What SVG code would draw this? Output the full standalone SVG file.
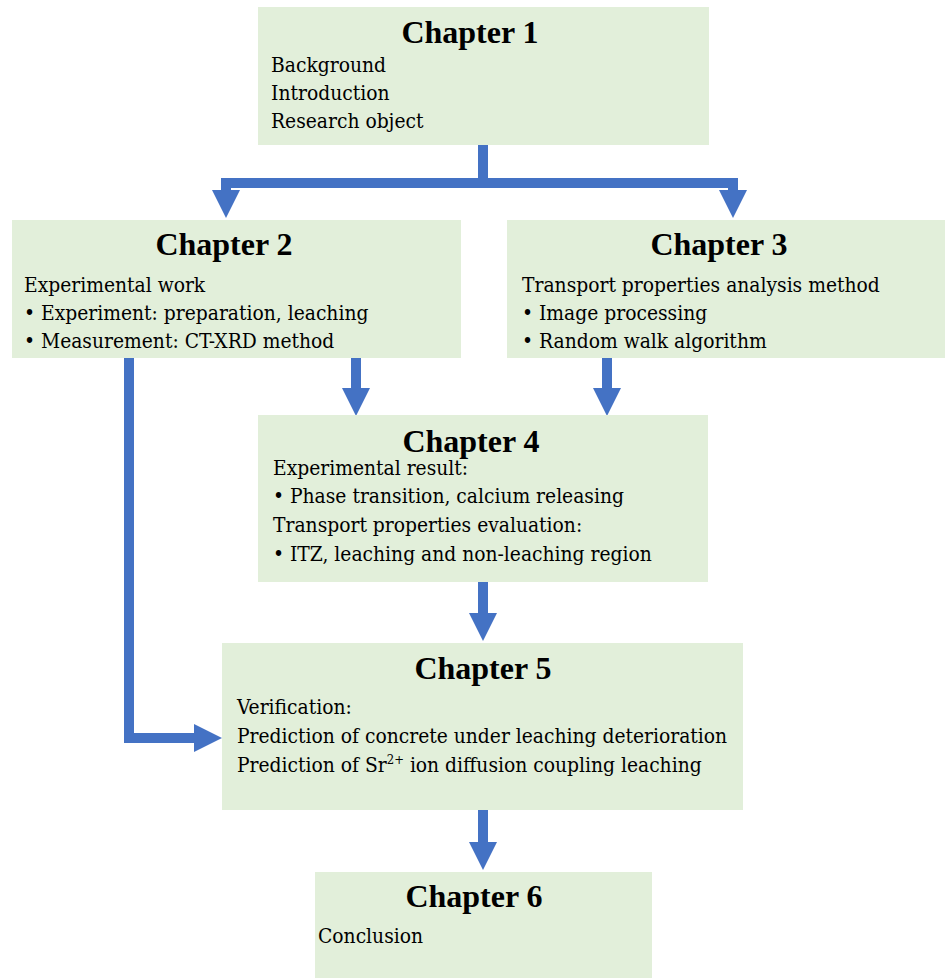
<svg xmlns="http://www.w3.org/2000/svg" width="945" height="978" viewBox="0 0 945 978">
<style>
.box{fill:#E2EFDA;}
.t{font-family:'Liberation Serif',serif;font-weight:700;font-size:32px;fill:#000;text-anchor:middle;}
.b{font-family:'DejaVu Serif Condensed','DejaVu Serif',serif;font-stretch:condensed;font-weight:400;font-size:20.8px;fill:#000;}
.c{fill:none;stroke:#4472C4;stroke-width:10;marker-end:url(#ah);}
.s{fill:none;stroke:#4472C4;stroke-width:10;}
</style>
<defs>
<marker id="ah" markerUnits="userSpaceOnUse" viewBox="0 0 28 28" refX="0" refY="14" markerWidth="28" markerHeight="28" orient="auto">
<path d="M0,0 L28,14 L0,28 z" fill="#4472C4"/>
</marker>
</defs>
<rect width="945" height="978" fill="#fff"/>
<g id="connectors">
<path class="s" d="M483,145 V183"/>
<path class="c" d="M483,183 H226 V190"/>
<path class="c" d="M483,183 H733 V190"/>
<path class="c" d="M356,358 V388"/>
<path class="c" d="M607,358 V388"/>
<path class="c" d="M483,582 V613"/>
<path class="c" d="M483,810 V842"/>
<path class="c" d="M129,358 V738 H194"/>
</g>
<g id="ch1">
<rect class="box" x="258" y="7" width="451" height="138"/>
<text class="t" x="470" y="43">Chapter 1</text>
<text class="b" x="271" y="72">Background</text>
<text class="b" x="271" y="100">Introduction</text>
<text class="b" x="271" y="128">Research object</text>
</g>
<g id="ch2">
<rect class="box" x="12" y="220" width="449" height="138"/>
<text class="t" x="224" y="255">Chapter 2</text>
<text class="b" x="24" y="292">Experimental work</text>
<text class="b" x="24" y="320">• Experiment: preparation, leaching</text>
<text class="b" x="24" y="348">• Measurement: CT-XRD method</text>
</g>
<g id="ch3">
<rect class="box" x="507" y="220" width="438" height="138"/>
<text class="t" x="719" y="255">Chapter 3</text>
<text class="b" x="522" y="292">Transport properties analysis method</text>
<text class="b" x="522" y="320">• Image processing</text>
<text class="b" x="522" y="348">• Random walk algorithm</text>
</g>
<g id="ch4">
<rect class="box" x="258" y="415" width="450" height="167"/>
<text class="t" x="471" y="452">Chapter 4</text>
<text class="b" x="273" y="475">Experimental result:</text>
<text class="b" x="273" y="503">• Phase transition, calcium releasing</text>
<text class="b" x="273" y="532">Transport properties evaluation:</text>
<text class="b" x="273" y="561">• ITZ, leaching and non-leaching region</text>
</g>
<g id="ch5">
<rect class="box" x="222" y="643" width="521" height="167"/>
<text class="t" x="483" y="679">Chapter 5</text>
<text class="b" x="237" y="714">Verification:</text>
<text class="b" x="237" y="743">Prediction of concrete under leaching deterioration</text>
<text class="b" x="237" y="772">Prediction of Sr<tspan font-size="13" dy="-8">2+</tspan><tspan dy="8"> ion diffusion coupling leaching</tspan></text>
</g>
<g id="ch6">
<rect class="box" x="315" y="872" width="337" height="106"/>
<text class="t" x="474" y="907">Chapter 6</text>
<text class="b" x="318" y="943">Conclusion</text>
</g>
</svg>
